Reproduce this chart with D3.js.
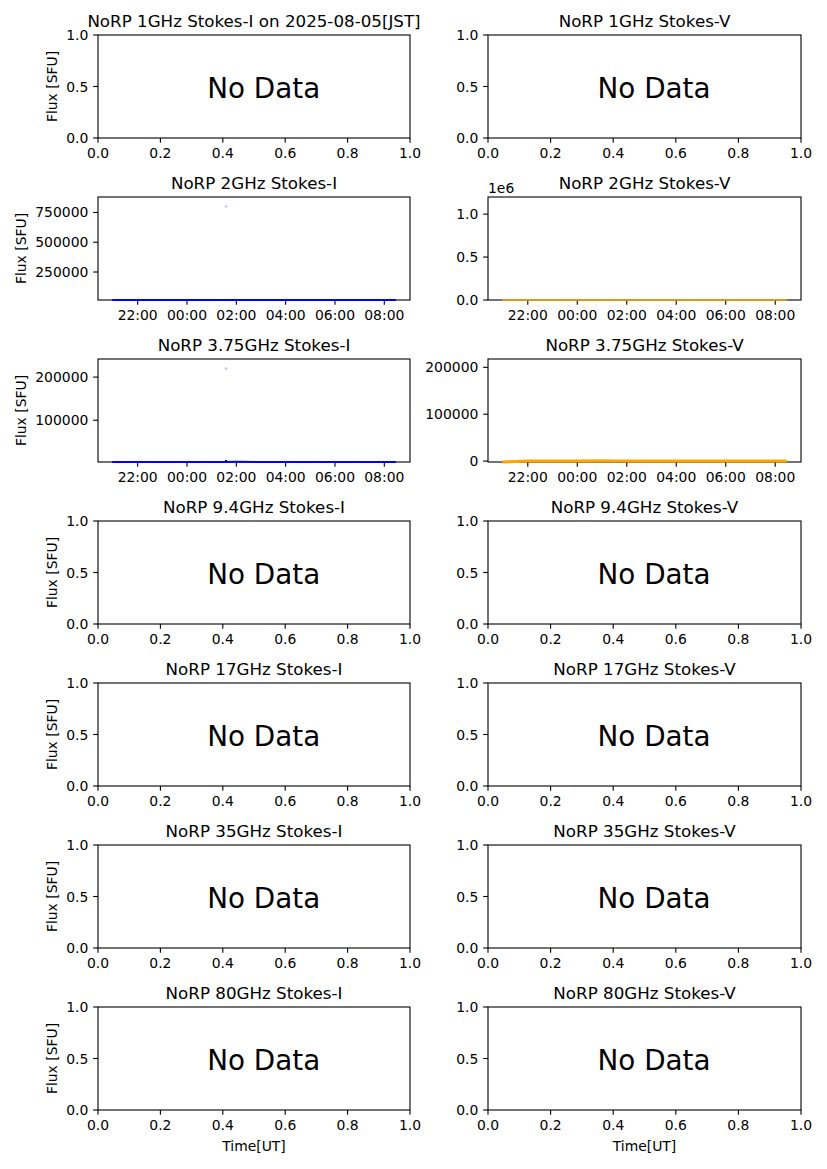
<!DOCTYPE html>
<html><head><meta charset="utf-8">
<script src="https://cdn.jsdelivr.net/npm/d3@7"></script>
<style>
body{margin:0;background:#fff;}
svg{display:block;font-family:"DejaVu Sans",sans-serif;}
</style></head>
<body><svg id="c" width="827" height="1169"></svg>
<script>
// ---------- data ----------
const bands = ["1GHz","2GHz","3.75GHz","9.4GHz","17GHz","35GHz","80GHz"];
const stokes = ["I","V"];
const titleDate = "2025-08-05[JST]";
const sampleTimesUT = ["2025-08-04T20:58","2025-08-04T22:00","2025-08-04T23:00","2025-08-05T00:00","2025-08-05T01:00","2025-08-05T01:34","2025-08-05T01:35","2025-08-05T01:36","2025-08-05T02:00","2025-08-05T03:00","2025-08-05T04:00","2025-08-05T05:00","2025-08-05T06:00","2025-08-05T07:00","2025-08-05T08:00","2025-08-05T08:28"];
const spikeTimeUT = "2025-08-05T01:35";
const flux2I   = [15000,15300,15500,15600,15700,15800,15900,15800,15700,15600,15500,15400,15300,15200,15100,15000];
const spike2I  = 800000;
const flux2V   = [0,120,150,100,180,190,200,190,150,120,100,90,80,60,40,20];
const spike2V  = 1090000;
const flux375I = [3000,3100,3150,3200,3250,3250,7000,3250,3300,3250,3200,3150,3100,3050,3000,3000];
const spike375I= 220000;
const flux375V = [-2000,300,400,350,450,400,500,400,350,300,400,350,300,400,350,300];
const spike375V= 198000;
const timeTicksUT = ["2025-08-04T22:00","2025-08-05T00:00","2025-08-05T02:00","2025-08-05T04:00","2025-08-05T06:00","2025-08-05T08:00"];
const unitTicks = [0,0.2,0.4,0.6,0.8,1.0];
const unitYTicks = [0,0.5,1.0];
const yTicks2I = [250000,500000,750000];
const yTicks2V = [0,500000,1000000];
const yTicks375I = [100000,200000];
const yTicks375V = [0,100000,200000];
const yLabel = "Flux [SFU]";
const xLabel = "Time[UT]";
const noDataText = "No Data";

// ---------- layout ----------
const svg = d3.select("#c");
const colX = [98, 488], axW = [312, 313];
const rowTop0 = 35, rowStep = 162, axH = 103;
const parseT = d3.utcParse("%Y-%m-%dT%H:%M");
const fmtT = d3.utcFormat("%H:%M");
const tickFont = 13.9;

const times = sampleTimesUT.map(parseT);
const spikeT = parseT(spikeTimeUT);
const [t0, t1] = d3.extent(times);
const pad = (t1 - t0) * 0.05;
const timeDomain = [new Date(+t0 - pad), new Date(+t1 + pad)];

const dataSets = {
  "2GHz-I":    {vals: flux2I, spike: spike2I, color: "#0000ff", ticks: yTicks2I, fmt: d3.format("d"), lw: 2, dotOp: 0.25},
  "2GHz-V":    {vals: flux2V, spike: spike2V, color: "#ffa500", ticks: yTicks2V, fmt: d => d3.format(".1f")(d/1e6), offset: "1e6", lw: 1.5, dotOp: 0.0},
  "3.75GHz-I": {vals: flux375I, spike: spike375I, color: "#0000ff", ticks: yTicks375I, fmt: d3.format("d"), lw: 2, dotOp: 0.25},
  "3.75GHz-V": {vals: flux375V, spike: spike375V, color: "#ffa500", ticks: yTicks375V, fmt: d3.format("d"), lw: 3, dotOp: 0.0}
};

bands.forEach((band, r) => {
  stokes.forEach((s, c) => {
    const x0 = colX[c], w = axW[c], y0 = rowTop0 + r*rowStep, h = axH;
    const g = svg.append("g").attr("transform", `translate(${x0},${y0})`);
    const key = band + "-" + s;
    const ds = dataSets[key];
    let xs, ys, xTickVals, xFmt, yTickVals, yFmt;
    if (ds) {
      xs = d3.scaleUtc().domain(timeDomain).range([0, w]);
      const all = ds.vals.concat([ds.spike]);
      ys = d3.scaleLinear().domain([d3.min(all), d3.max(all)*1.1]).range([h, 0]);
      xTickVals = timeTicksUT.map(parseT); xFmt = fmtT;
      yTickVals = ds.ticks; yFmt = ds.fmt;
    } else {
      xs = d3.scaleLinear().domain([0,1]).range([0,w]);
      ys = d3.scaleLinear().domain([0,1]).range([h,0]);
      xTickVals = unitTicks; xFmt = d3.format(".1f");
      yTickVals = unitYTicks; yFmt = d3.format(".1f");
    }
    // frame
    g.append("rect").attr("x",0).attr("y",0).attr("width",w).attr("height",h)
      .attr("fill","none").attr("stroke","#000").attr("stroke-width",1.1);
    // x ticks
    const xt = g.append("g").attr("transform",`translate(0,${h})`);
    xTickVals.forEach(v => {
      const px = xs(v);
      xt.append("line").attr("x1",px).attr("x2",px).attr("y1",0).attr("y2",4.86).attr("stroke","#000").attr("stroke-width",1.1);
      xt.append("text").attr("x",px).attr("y",20).attr("text-anchor","middle")
        .attr("font-size",tickFont).attr("fill","#000").text(xFmt(v));
    });
    // y ticks
    const yt = g.append("g");
    let maxW = 0;
    yTickVals.forEach(v => {
      const py = ys(v);
      yt.append("line").attr("x1",-4.86).attr("x2",0).attr("y1",py).attr("y2",py).attr("stroke","#000").attr("stroke-width",1.1);
      const t = yt.append("text").attr("x",-9.7).attr("y",py+5).attr("text-anchor","end")
        .attr("font-size",tickFont).attr("fill","#000").text(yFmt(v));
      maxW = Math.max(maxW, t.node().getComputedTextLength());
    });
    if (ds && ds.offset) {
      g.append("text").attr("x",0).attr("y",-4).attr("font-size",tickFont).attr("fill","#000").text(ds.offset);
    }
    // y label (left column)
    if (c === 0) {
      const lx = -9.7 - maxW - 5.6 - 3.5;
      g.append("text").attr("transform",`translate(${lx},${h/2}) rotate(-90)`)
        .attr("text-anchor","middle").attr("font-size",tickFont).attr("fill","#000").text(yLabel);
    }
    // x label (bottom row)
    if (r === bands.length - 1) {
      g.append("text").attr("x",w/2).attr("y",h+41).attr("text-anchor","middle")
        .attr("font-size",tickFont).attr("fill","#000").text(xLabel);
    }
    // title
    let title = `NoRP ${band} Stokes-${s}`;
    if (r === 0 && c === 0) title += " on " + titleDate;
    g.append("text").attr("x",w/2).attr("y",-8.3).attr("text-anchor","middle")
      .attr("font-size",16.7).attr("fill","#000").text(title);
    // content
    if (ds) {
      const pts = times.map((t,i) => [t, ds.vals[i]]);
      g.append("path").datum(pts)
        .attr("d", d3.line().x(d => xs(d[0])).y(d => ys(d[1])))
        .attr("fill","none").attr("stroke",ds.color).attr("stroke-width",ds.lw);
      if (ds.dotOp > 0) {
        g.append("circle").attr("cx",xs(spikeT)).attr("cy",ys(ds.spike)).attr("r",1.3)
          .attr("fill",ds.color).attr("opacity",ds.dotOp);
      }
    } else {
      g.append("text").attr("x",xs(0.35)).attr("y",ys(0.5)+11).attr("text-anchor","start")
        .attr("font-size",27.8).attr("fill","#000").text(noDataText);
    }
  });
});
</script>
</body></html>
